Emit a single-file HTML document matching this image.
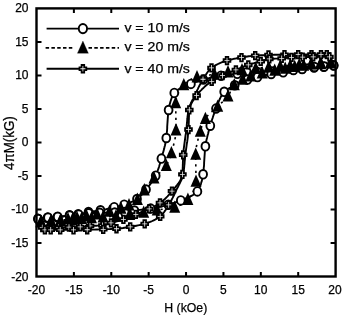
<!DOCTYPE html><html><head><meta charset="utf-8"><title>Hysteresis loops</title><style>html,body{margin:0;padding:0;background:#fff}body{width:342px;height:315px;overflow:hidden}</style></head><body>
<svg width="342" height="315" viewBox="0 0 342 315" style="display:block">
<rect width="342" height="315" fill="#fff"/>
<g fill="none" stroke="#000" stroke-linejoin="round">
<path d="M333.5,65.2 L332.1,65.5 L330.6,65.8 L329.2,66.0 L327.7,66.3 L326.3,66.5 L324.8,66.7 L323.4,66.8 L321.9,67.0 L320.4,67.1 L319.0,67.2 L317.5,67.2 L316.0,67.3 L314.6,67.5 L313.1,67.6 L311.7,67.7 L310.2,67.9 L308.7,68.0 L307.3,68.2 L305.8,68.4 L304.4,68.6 L302.9,68.7 L301.4,68.9 L300.0,69.0 L298.5,69.1 L297.1,69.2 L295.6,69.3 L294.1,69.5 L292.7,69.6 L291.2,69.8 L289.8,70.1 L288.3,70.3 L286.9,70.5 L285.4,70.7 L284.0,70.9 L282.5,71.0 L281.0,71.1 L279.6,71.2 L278.1,71.3 L276.6,71.3 L275.2,71.4 L273.7,71.4 L272.2,71.5 L270.8,71.5 L269.3,71.6 L267.8,71.6 L266.4,71.6 L264.9,71.6 L263.4,71.7 L262.0,71.7 L260.5,71.7 L259.0,71.7 L257.6,71.8 L256.1,71.8 L254.6,71.9 L253.2,71.9 L251.7,72.0 L250.2,72.1 L248.8,72.2 L247.3,72.3 L245.8,72.4 L244.4,72.6 L242.9,72.8 L241.5,73.1 L240.0,73.4 L238.6,73.6 L237.1,73.8 L235.7,74.0 L234.2,74.2 L232.8,74.3 L231.3,74.5 L229.8,74.6 L228.4,74.8 L226.9,74.9 L225.5,75.1 L224.0,75.3 L222.5,75.5 L221.1,75.7 L219.7,75.9 L218.2,76.2 L216.8,76.4 L215.3,76.7 L213.9,77.0 L212.4,77.3 L211.0,77.7 L209.6,78.0 L208.2,78.4 L206.7,78.7 L205.3,79.1 L203.9,79.5 L202.5,79.9 L201.1,80.3 L199.7,80.7 L198.3,81.1 L196.9,81.6 L195.5,82.1 L194.1,82.6 L192.7,83.2 L191.4,83.7 L190.0,84.3 L188.6,84.8 L187.1,85.4 L185.7,86.0 L184.2,86.6 L182.7,87.3 L181.2,87.9 L179.9,88.6 L178.5,89.4 L177.3,90.1 L176.2,90.9 L175.3,91.8 L174.5,92.7 L173.8,93.7 L173.1,94.8 L172.5,96.0 L171.9,97.3 L171.4,98.7 L170.9,100.2 L170.4,101.7 L170.0,103.2 L169.6,104.7 L169.3,106.3 L169.0,107.8 L168.7,109.3 L168.5,110.7 L168.3,112.1 L168.2,113.6 L168.0,115.0 L167.9,116.5 L167.8,118.0 L167.7,119.4 L167.6,120.9 L167.5,122.4 L167.4,123.8 L167.3,125.3 L167.2,126.8 L167.2,128.3 L167.1,129.7 L167.0,131.2 L166.8,132.7 L166.7,134.2 L166.6,135.6 L166.4,137.1 L166.2,138.5 L166.0,140.0 L165.8,141.4 L165.5,142.8 L165.2,144.3 L164.9,145.7 L164.5,147.1 L164.2,148.6 L163.8,150.0 L163.4,151.4 L163.0,152.8 L162.6,154.3 L162.2,155.7 L161.8,157.1 L161.4,158.5 L161.0,159.9 L160.6,161.3 L160.2,162.8 L159.8,164.2 L159.4,165.6 L159.0,167.0 L158.5,168.4 L158.0,169.8 L157.5,171.2 L157.0,172.6 L156.5,173.9 L155.9,175.2 L155.3,176.5 L154.6,177.8 L153.9,179.0 L153.1,180.3 L152.3,181.5 L151.4,182.7 L150.5,183.9 L149.6,185.1 L148.7,186.2 L147.7,187.4 L146.8,188.5 L145.9,189.7 L144.9,190.8 L144.0,192.0 L143.0,193.2 L142.1,194.3 L141.1,195.4 L140.0,196.5 L139.0,197.5 L137.9,198.4 L136.7,199.2 L135.5,199.9 L134.3,200.6 L133.0,201.3 L131.6,201.9 L130.2,202.5 L128.8,203.1 L127.4,203.6 L126.0,204.1 L124.6,204.6 L123.2,205.0 L121.8,205.4 L120.4,205.8 L119.0,206.1 L117.6,206.4 L116.1,206.8 L114.7,207.1 L113.3,207.4 L111.8,207.8 L110.4,208.1 L109.0,208.5 L107.5,208.8 L106.1,209.2 L104.7,209.5 L103.2,209.8 L101.8,210.1 L100.4,210.3 L98.9,210.6 L97.5,210.8 L96.0,211.0 L94.6,211.1 L93.1,211.3 L91.6,211.5 L90.2,211.7 L88.7,212.0 L87.3,212.2 L85.9,212.6 L84.4,212.9 L83.0,213.3 L81.6,213.6 L80.2,213.9 L78.7,214.2 L77.3,214.4 L75.8,214.6 L74.4,214.8 L72.9,214.9 L71.4,215.1 L70.0,215.2 L68.5,215.4 L67.1,215.7 L65.6,216.0 L64.2,216.2 L62.7,216.5 L61.3,216.8 L59.8,217.0 L58.4,217.2 L56.9,217.3 L55.5,217.4 L54.0,217.5 L52.5,217.6 L51.1,217.6 L49.6,217.7 L48.1,217.8 L46.7,217.9 L45.2,218.0 L43.7,218.1 L42.3,218.2 L40.8,218.4 L39.4,218.5 L37.9,218.7" stroke-width="1.9"/>
<path d="M38.2,219.1 L39.6,218.8 L41.1,218.5 L42.5,218.3 L44.0,218.0 L45.5,217.8 L46.9,217.6 L48.4,217.5 L49.8,217.3 L51.3,217.2 L52.8,217.1 L54.2,217.0 L55.7,217.0 L57.2,216.8 L58.6,216.7 L60.1,216.6 L61.6,216.4 L63.0,216.2 L64.5,216.1 L66.0,215.9 L67.4,215.7 L68.9,215.6 L70.4,215.4 L71.8,215.3 L73.3,215.2 L74.8,215.1 L76.2,214.9 L77.7,214.8 L79.1,214.6 L80.6,214.5 L82.1,214.2 L83.5,214.0 L85.0,213.7 L86.4,213.5 L87.9,213.4 L89.4,213.3 L90.8,213.2 L92.3,213.1 L93.8,213.0 L95.2,213.0 L96.7,212.9 L98.2,212.8 L99.6,212.8 L101.1,212.8 L102.6,212.7 L104.1,212.7 L105.5,212.7 L107.0,212.7 L108.5,212.6 L110.0,212.6 L111.4,212.6 L112.9,212.5 L114.4,212.5 L115.8,212.5 L117.3,212.4 L118.8,212.4 L120.3,212.3 L121.7,212.2 L123.2,212.1 L124.7,212.0 L126.1,211.9 L127.6,211.7 L129.0,211.4 L130.5,211.2 L131.9,210.9 L133.4,210.6 L134.8,210.4 L136.3,210.3 L137.8,210.1 L139.2,209.9 L140.7,209.8 L142.2,209.6 L143.6,209.5 L145.1,209.3 L146.6,209.2 L148.0,209.0 L149.5,208.8 L150.9,208.6 L152.4,208.3 L153.8,208.1 L155.3,207.8 L156.7,207.5 L158.2,207.2 L159.6,206.9 L161.0,206.6 L162.5,206.2 L163.9,205.9 L165.3,205.5 L166.7,205.1 L168.2,204.7 L169.6,204.3 L171.0,203.9 L172.4,203.5 L173.8,203.0 L175.2,202.5 L176.6,202.0 L178.0,201.5 L179.3,201.0 L180.7,200.4 L182.1,199.9 L183.5,199.3 L185.0,198.7 L186.5,198.1 L188.0,197.5 L189.5,196.8 L190.9,196.2 L192.3,195.4 L193.5,194.7 L194.7,193.9 L195.8,193.1 L196.7,192.2 L197.5,191.3 L198.1,190.3 L198.8,189.1 L199.4,187.9 L199.9,186.5 L200.5,185.1 L201.0,183.6 L201.4,182.1 L201.9,180.6 L202.2,179.0 L202.6,177.5 L202.8,176.0 L203.1,174.5 L203.3,173.1 L203.4,171.6 L203.6,170.2 L203.7,168.7 L203.8,167.3 L204.0,165.8 L204.1,164.3 L204.1,162.9 L204.2,161.4 L204.3,159.9 L204.4,158.4 L204.5,156.9 L204.6,155.5 L204.7,154.0 L204.8,152.5 L204.9,151.0 L205.0,149.6 L205.2,148.1 L205.4,146.6 L205.5,145.2 L205.8,143.8 L206.0,142.3 L206.3,140.9 L206.6,139.4 L207.0,138.0 L207.3,136.6 L207.7,135.1 L208.1,133.7 L208.4,132.3 L208.8,130.8 L209.2,129.4 L209.7,128.0 L210.1,126.6 L210.4,125.2 L210.9,123.8 L211.3,122.3 L211.7,120.9 L212.1,119.5 L212.6,118.1 L213.0,116.7 L213.5,115.3 L214.0,113.9 L214.5,112.5 L215.0,111.2 L215.5,109.8 L216.1,108.4 L216.6,107.0 L217.2,105.6 L217.7,104.2 L218.3,102.7 L218.8,101.3 L219.4,99.9 L220.1,98.5 L220.7,97.1 L221.4,95.8 L222.1,94.6 L222.9,93.4 L223.7,92.4 L224.6,91.4 L225.6,90.5 L226.7,89.6 L228.0,88.8 L229.3,88.1 L230.7,87.3 L232.1,86.6 L233.4,86.0 L234.7,85.3 L236.0,84.6 L237.4,83.9 L238.7,83.3 L240.0,82.6 L241.4,82.0 L242.7,81.4 L244.1,80.8 L245.5,80.3 L246.8,79.8 L248.2,79.4 L249.6,79.0 L251.0,78.6 L252.5,78.3 L253.9,77.9 L255.4,77.6 L256.8,77.3 L258.2,76.9 L259.7,76.6 L261.1,76.2 L262.5,75.9 L264.0,75.5 L265.4,75.2 L266.8,74.9 L268.3,74.6 L269.7,74.3 L271.2,74.0 L272.6,73.8 L274.1,73.6 L275.5,73.4 L277.0,73.2 L278.4,73.0 L279.9,72.8 L281.4,72.6 L282.8,72.4 L284.3,72.1 L285.7,71.8 L287.1,71.4 L288.6,71.1 L290.0,70.7 L291.4,70.4 L292.9,70.1 L294.3,69.9 L295.8,69.7 L297.2,69.5 L298.7,69.4 L300.2,69.2 L301.6,69.1 L303.1,68.9 L304.6,68.6 L306.0,68.4 L307.5,68.1 L308.9,67.8 L310.4,67.5 L311.8,67.3 L313.3,67.1 L314.7,67.0 L316.2,66.9 L317.7,66.8 L319.1,66.7 L320.6,66.7 L322.1,66.6 L323.5,66.5 L325.0,66.4 L326.5,66.3 L327.9,66.2 L329.4,66.1 L330.9,65.9 L332.3,65.8 L333.8,65.6" stroke-width="1.9"/>
<path d="M334.0,62.8 L332.5,62.9 L331.0,63.0 L329.5,63.1 L328.1,63.1 L326.6,63.2 L325.1,63.3 L323.6,63.4 L322.1,63.4 L320.6,63.5 L319.2,63.6 L317.7,63.7 L316.2,63.7 L314.7,63.8 L313.2,63.9 L311.7,64.0 L310.2,64.1 L308.8,64.1 L307.3,64.2 L305.8,64.3 L304.3,64.4 L302.8,64.5 L301.3,64.6 L299.9,64.8 L298.4,64.9 L296.9,65.0 L295.4,65.1 L293.9,65.3 L292.4,65.4 L291.0,65.5 L289.5,65.7 L288.0,65.8 L286.5,65.9 L285.0,66.0 L283.6,66.1 L282.1,66.3 L280.6,66.4 L279.1,66.5 L277.6,66.6 L276.1,66.7 L274.7,66.8 L273.2,66.9 L271.7,67.0 L270.2,67.1 L268.7,67.2 L267.2,67.3 L265.8,67.4 L264.3,67.5 L262.8,67.7 L261.3,67.8 L259.8,67.9 L258.4,68.1 L256.9,68.2 L255.4,68.3 L253.9,68.5 L252.4,68.6 L251.0,68.8 L249.5,68.9 L248.0,69.1 L246.5,69.3 L245.0,69.4 L243.6,69.6 L242.1,69.8 L240.6,70.0 L239.1,70.2 L237.7,70.4 L236.2,70.6 L234.7,70.9 L233.3,71.1 L231.8,71.4 L230.3,71.6 L228.9,71.9 L227.4,72.1 L225.9,72.3 L224.5,72.6 L223.0,72.8 L221.5,73.1 L220.1,73.4 L218.6,73.6 L217.1,73.9 L215.7,74.1 L214.2,74.3 L212.7,74.6 L211.2,74.8 L209.7,75.0 L208.2,75.2 L206.7,75.3 L205.2,75.5 L203.7,75.7 L202.3,75.9 L200.8,76.2 L199.4,76.5 L198.0,76.8 L196.6,77.1 L195.2,77.6 L193.8,78.1 L192.3,78.7 L190.9,79.4 L189.5,80.2 L188.2,81.1 L186.9,82.0 L185.8,82.9 L184.7,83.8 L183.8,84.8 L183.0,85.8 L182.1,86.9 L181.3,88.1 L180.4,89.4 L179.6,90.7 L178.9,92.1 L178.1,93.5 L177.5,95.0 L176.9,96.5 L176.5,98.0 L176.1,99.5 L175.8,100.9 L175.7,102.4 L175.7,103.8 L175.7,105.3 L175.7,106.7 L175.7,108.2 L175.7,109.6 L175.8,111.1 L175.8,112.6 L175.8,114.1 L175.8,115.6 L175.9,117.1 L175.9,118.6 L175.9,120.1 L175.9,121.7 L176.0,123.2 L176.0,124.7 L176.0,126.2 L176.0,127.7 L176.0,129.1 L176.0,130.6 L175.9,132.1 L175.8,133.6 L175.7,135.0 L175.5,136.5 L175.2,138.0 L174.9,139.5 L174.6,140.9 L174.3,142.4 L173.9,143.8 L173.5,145.3 L173.1,146.8 L172.7,148.2 L172.3,149.6 L171.9,151.1 L171.5,152.5 L171.1,153.9 L170.7,155.3 L170.2,156.8 L169.7,158.2 L169.2,159.7 L168.6,161.1 L168.0,162.4 L167.4,163.8 L166.7,165.0 L166.0,166.2 L165.1,167.4 L164.2,168.5 L163.2,169.5 L162.1,170.6 L161.0,171.6 L159.9,172.6 L158.7,173.6 L157.5,174.6 L156.4,175.6 L155.3,176.6 L154.3,177.7 L153.3,178.8 L152.3,179.9 L151.3,181.1 L150.4,182.2 L149.4,183.4 L148.5,184.6 L147.6,185.7 L146.7,186.9 L145.8,188.1 L144.9,189.3 L144.0,190.4 L143.1,191.7 L142.3,192.9 L141.5,194.2 L140.6,195.5 L139.8,196.7 L138.9,197.9 L137.9,199.0 L136.9,200.0 L135.8,200.9 L134.6,201.8 L133.3,202.6 L132.0,203.4 L130.7,204.1 L129.4,204.8 L128.0,205.5 L126.7,206.1 L125.3,206.7 L123.9,207.3 L122.5,207.8 L121.1,208.3 L119.7,208.7 L118.3,209.1 L116.9,209.5 L115.4,209.9 L114.0,210.2 L112.5,210.6 L111.1,210.9 L109.6,211.3 L108.2,211.6 L106.7,211.9 L105.3,212.3 L103.8,212.6 L102.4,212.9 L100.9,213.2 L99.5,213.5 L98.0,213.8 L96.5,214.1 L95.1,214.4 L93.6,214.7 L92.2,215.0 L90.7,215.2 L89.2,215.5 L87.8,215.8 L86.3,216.0 L84.9,216.3 L83.4,216.5 L81.9,216.8 L80.5,217.0 L79.0,217.3 L77.5,217.5 L76.1,217.7 L74.6,218.0 L73.1,218.2 L71.6,218.4 L70.2,218.6 L68.7,218.9 L67.2,219.1 L65.8,219.5 L64.3,219.8 L62.9,220.1 L61.4,220.4 L60.0,220.6 L58.5,220.7 L57.0,220.9 L55.5,221.0 L54.0,221.1 L52.5,221.2 L51.1,221.3 L49.6,221.4 L48.1,221.5 L46.6,221.6 L45.1,221.8 L43.6,221.9 L42.2,221.9 L40.7,222.0 L39.2,222.1 L37.7,222.1" stroke-width="1.6" stroke-dasharray="2.2 4.3"/>
<path d="M37.7,221.5 L39.2,221.4 L40.7,221.3 L42.2,221.2 L43.6,221.2 L45.1,221.1 L46.6,221.0 L48.1,220.9 L49.6,220.9 L51.1,220.8 L52.6,220.7 L54.0,220.6 L55.5,220.6 L57.0,220.5 L58.5,220.4 L60.0,220.3 L61.5,220.2 L63.0,220.2 L64.4,220.1 L65.9,220.0 L67.4,219.9 L68.9,219.8 L70.4,219.7 L71.9,219.5 L73.4,219.4 L74.8,219.3 L76.3,219.2 L77.8,219.0 L79.3,218.9 L80.8,218.8 L82.2,218.6 L83.7,218.5 L85.2,218.4 L86.7,218.3 L88.2,218.2 L89.7,218.0 L91.1,217.9 L92.6,217.8 L94.1,217.7 L95.6,217.6 L97.1,217.5 L98.6,217.4 L100.1,217.3 L101.5,217.2 L103.0,217.1 L104.5,217.0 L106.0,216.9 L107.5,216.7 L109.0,216.6 L110.4,216.5 L111.9,216.4 L113.4,216.2 L114.9,216.1 L116.4,216.0 L117.8,215.8 L119.3,215.7 L120.8,215.5 L122.3,215.4 L123.8,215.2 L125.2,215.0 L126.7,214.9 L128.2,214.7 L129.7,214.5 L131.2,214.3 L132.6,214.1 L134.1,213.9 L135.6,213.6 L137.0,213.4 L138.5,213.2 L140.0,212.9 L141.4,212.7 L142.9,212.4 L144.4,212.2 L145.8,211.9 L147.3,211.7 L148.8,211.4 L150.2,211.2 L151.7,210.9 L153.2,210.7 L154.6,210.4 L156.1,210.2 L157.6,209.9 L159.1,209.7 L160.6,209.5 L162.1,209.3 L163.6,209.1 L165.1,209.0 L166.6,208.8 L168.1,208.6 L169.5,208.3 L171.0,208.1 L172.4,207.8 L173.8,207.5 L175.2,207.2 L176.6,206.7 L178.0,206.2 L179.5,205.5 L180.9,204.8 L182.3,204.0 L183.6,203.2 L184.8,202.3 L186.0,201.4 L187.0,200.4 L187.9,199.4 L188.8,198.4 L189.6,197.3 L190.5,196.1 L191.3,194.8 L192.1,193.5 L192.9,192.1 L193.6,190.6 L194.3,189.2 L194.8,187.7 L195.3,186.2 L195.6,184.7 L195.9,183.2 L196.0,181.8 L196.0,180.4 L196.0,178.9 L196.0,177.5 L196.0,176.0 L195.9,174.5 L195.9,173.0 L195.9,171.6 L195.9,170.1 L195.9,168.5 L195.8,167.0 L195.8,165.5 L195.8,164.0 L195.8,162.5 L195.7,161.0 L195.7,159.5 L195.7,158.0 L195.7,156.5 L195.7,155.0 L195.7,153.5 L195.8,152.1 L195.9,150.6 L196.0,149.1 L196.3,147.6 L196.5,146.2 L196.8,144.7 L197.1,143.2 L197.5,141.8 L197.8,140.3 L198.2,138.8 L198.6,137.4 L199.0,135.9 L199.4,134.5 L199.8,133.1 L200.2,131.7 L200.6,130.2 L201.1,128.8 L201.5,127.3 L202.0,125.9 L202.6,124.5 L203.2,123.1 L203.8,121.7 L204.4,120.4 L205.1,119.1 L205.8,117.9 L206.6,116.8 L207.6,115.7 L208.6,114.6 L209.6,113.5 L210.7,112.5 L211.9,111.5 L213.0,110.5 L214.2,109.5 L215.3,108.5 L216.5,107.5 L217.6,106.4 L218.6,105.4 L219.7,104.4 L220.9,103.4 L222.0,102.4 L223.1,101.4 L224.2,100.3 L225.3,99.3 L226.3,98.2 L227.3,97.1 L228.1,96.0 L228.9,94.8 L229.7,93.4 L230.3,92.0 L230.9,90.6 L231.6,89.2 L232.3,87.8 L233.0,86.6 L233.8,85.4 L234.7,84.4 L235.8,83.4 L237.0,82.6 L238.2,81.7 L239.6,81.0 L240.9,80.2 L242.3,79.5 L243.6,78.9 L244.9,78.2 L246.3,77.6 L247.7,77.1 L249.1,76.5 L250.5,76.1 L251.9,75.6 L253.3,75.2 L254.8,74.8 L256.2,74.4 L257.7,74.1 L259.1,73.7 L260.6,73.4 L262.0,73.0 L263.5,72.7 L264.9,72.4 L266.4,72.0 L267.8,71.7 L269.3,71.4 L270.7,71.1 L272.2,70.8 L273.7,70.5 L275.1,70.2 L276.6,69.9 L278.0,69.6 L279.5,69.4 L281.0,69.1 L282.4,68.8 L283.9,68.5 L285.3,68.3 L286.8,68.0 L288.3,67.8 L289.7,67.5 L291.2,67.3 L292.7,67.0 L294.1,66.8 L295.6,66.6 L297.1,66.3 L298.6,66.1 L300.0,65.9 L301.5,65.7 L303.0,65.4 L304.4,65.2 L305.9,64.9 L307.3,64.5 L308.8,64.2 L310.3,63.9 L311.7,63.7 L313.2,63.6 L314.7,63.4 L316.2,63.3 L317.7,63.2 L319.1,63.1 L320.6,63.0 L322.1,62.9 L323.6,62.8 L325.1,62.7 L326.6,62.5 L328.1,62.4 L329.5,62.4 L331.0,62.3 L332.5,62.2 L334.0,62.2" stroke-width="1.6" stroke-dasharray="2.2 4.3"/>
<path d="M326.8,54.5 L325.3,54.5 L323.8,54.5 L322.3,54.5 L320.8,54.5 L319.3,54.5 L317.8,54.5 L316.3,54.5 L314.8,54.5 L313.3,54.5 L311.8,54.5 L310.3,54.5 L308.8,54.5 L307.3,54.5 L305.8,54.5 L304.3,54.5 L302.8,54.5 L301.3,54.5 L299.8,54.5 L298.3,54.5 L296.8,54.5 L295.3,54.5 L293.8,54.5 L292.3,54.5 L290.8,54.5 L289.2,54.5 L287.7,54.6 L286.2,54.6 L284.7,54.6 L283.2,54.6 L281.7,54.6 L280.2,54.7 L278.7,54.7 L277.2,54.7 L275.7,54.8 L274.2,54.8 L272.7,54.9 L271.2,54.9 L269.7,55.0 L268.2,55.0 L266.7,55.1 L265.2,55.1 L263.7,55.2 L262.2,55.2 L260.7,55.3 L259.2,55.4 L257.7,55.4 L256.2,55.5 L254.7,55.6 L253.2,55.8 L251.7,55.9 L250.2,56.1 L248.8,56.3 L247.3,56.5 L245.8,56.8 L244.3,57.0 L242.8,57.3 L241.3,57.5 L239.9,57.8 L238.4,58.0 L236.9,58.3 L235.4,58.6 L233.9,58.8 L232.4,59.2 L230.9,59.5 L229.5,59.8 L228.1,60.2 L226.6,60.6 L225.2,61.1 L223.8,61.5 L222.3,62.1 L220.9,62.7 L219.4,63.3 L218.0,64.0 L216.7,64.7 L215.3,65.4 L214.1,66.2 L212.9,67.0 L211.7,67.8 L210.7,68.7 L209.6,69.7 L208.7,70.8 L207.7,72.0 L206.8,73.3 L206.0,74.6 L205.1,75.9 L204.3,77.2 L203.5,78.5 L202.7,79.8 L201.9,81.1 L201.2,82.4 L200.5,83.7 L199.8,85.0 L199.1,86.3 L198.4,87.7 L197.8,89.1 L197.1,90.4 L196.5,91.8 L195.9,93.2 L195.2,94.5 L194.6,95.9 L193.9,97.2 L193.2,98.6 L192.5,99.9 L191.8,101.3 L191.1,102.7 L190.5,104.1 L189.9,105.4 L189.4,106.8 L188.9,108.2 L188.6,109.7 L188.3,111.1 L188.1,112.5 L187.9,114.0 L187.7,115.5 L187.5,117.0 L187.4,118.5 L187.2,120.0 L187.1,121.5 L187.0,123.0 L186.8,124.5 L186.7,126.0 L186.6,127.5 L186.4,129.1 L186.2,130.5 L186.0,132.0 L185.9,133.5 L185.6,135.0 L185.4,136.5 L185.2,138.0 L185.0,139.5 L184.8,141.0 L184.6,142.5 L184.4,143.9 L184.2,145.4 L184.0,146.9 L183.8,148.4 L183.6,149.9 L183.5,151.4 L183.3,152.9 L183.2,154.4 L183.1,155.9 L183.1,157.4 L183.0,158.9 L183.0,160.5 L182.9,162.0 L182.9,163.6 L182.8,165.1 L182.8,166.6 L182.7,168.1 L182.7,169.6 L182.6,171.1 L182.5,172.5 L182.4,173.9 L182.3,175.3 L181.9,176.7 L181.5,178.0 L180.8,179.4 L180.1,180.7 L179.3,182.0 L178.4,183.3 L177.4,184.6 L176.4,185.8 L175.4,187.1 L174.4,188.3 L173.4,189.5 L172.4,190.6 L171.5,191.8 L170.6,193.0 L169.6,194.1 L168.6,195.2 L167.5,196.4 L166.5,197.4 L165.4,198.5 L164.3,199.6 L163.1,200.6 L162.0,201.5 L160.8,202.4 L159.6,203.3 L158.4,204.1 L157.1,204.8 L155.8,205.6 L154.4,206.3 L153.1,206.9 L151.7,207.6 L150.3,208.3 L149.0,208.9 L147.6,209.5 L146.3,210.1 L144.9,210.7 L143.5,211.3 L142.1,211.9 L140.7,212.4 L139.3,213.0 L137.9,213.5 L136.5,214.1 L135.1,214.7 L133.7,215.3 L132.4,215.8 L131.0,216.4 L129.6,217.0 L128.2,217.6 L126.8,218.2 L125.4,218.7 L124.0,219.2 L122.6,219.7 L121.1,220.1 L119.7,220.6 L118.3,221.0 L116.8,221.4 L115.4,221.8 L113.9,222.2 L112.5,222.6 L111.0,223.0 L109.6,223.4 L108.1,223.9 L106.7,224.4 L105.2,224.8 L103.8,225.1 L102.3,225.3 L100.8,225.4 L99.3,225.5 L97.8,225.6 L96.3,225.7 L94.8,225.7 L93.3,225.8 L91.8,225.9 L90.3,226.0 L88.8,226.1 L87.3,226.3 L85.8,226.5 L84.3,226.6 L82.8,226.8 L81.3,226.9 L79.8,227.0 L78.3,227.1 L76.8,227.1 L75.3,227.1 L73.8,227.1 L72.3,227.2 L70.8,227.2 L69.3,227.2 L67.8,227.2 L66.3,227.2 L64.8,227.2 L63.3,227.3 L61.8,227.3 L60.3,227.3 L58.8,227.3 L57.3,227.3 L55.8,227.3 L54.3,227.3 L52.8,227.4 L51.3,227.4 L49.8,227.4 L48.3,227.4 L46.8,227.4 L45.3,227.5 L43.8,227.5 L42.3,227.5" stroke-width="1.9"/>
<path d="M44.9,229.8 L46.4,229.8 L47.9,229.8 L49.4,229.8 L50.9,229.8 L52.4,229.8 L53.9,229.8 L55.4,229.8 L56.9,229.8 L58.4,229.8 L59.9,229.8 L61.4,229.8 L62.9,229.8 L64.4,229.8 L65.9,229.8 L67.4,229.8 L69.0,229.8 L70.5,229.8 L72.0,229.8 L73.5,229.8 L75.0,229.8 L76.5,229.8 L78.0,229.8 L79.5,229.8 L81.0,229.8 L82.5,229.8 L84.0,229.7 L85.5,229.7 L87.0,229.7 L88.5,229.7 L90.0,229.7 L91.5,229.6 L93.0,229.6 L94.5,229.6 L96.0,229.5 L97.5,229.5 L99.0,229.4 L100.5,229.4 L102.0,229.3 L103.5,229.3 L105.0,229.2 L106.5,229.2 L108.0,229.1 L109.5,229.1 L111.0,229.0 L112.5,228.9 L114.0,228.9 L115.5,228.8 L117.0,228.7 L118.5,228.5 L120.0,228.4 L121.5,228.2 L123.0,228.0 L124.5,227.7 L126.0,227.5 L127.5,227.3 L128.9,227.0 L130.4,226.8 L131.9,226.5 L133.4,226.3 L134.9,226.0 L136.4,225.7 L137.9,225.4 L139.4,225.1 L140.8,224.8 L142.3,224.5 L143.7,224.1 L145.1,223.7 L146.6,223.2 L148.0,222.7 L149.5,222.2 L150.9,221.6 L152.3,221.0 L153.7,220.3 L155.1,219.6 L156.4,218.9 L157.7,218.1 L158.9,217.3 L160.0,216.4 L161.1,215.5 L162.1,214.5 L163.1,213.4 L164.0,212.2 L164.9,210.9 L165.8,209.7 L166.6,208.3 L167.5,207.0 L168.3,205.7 L169.0,204.4 L169.8,203.2 L170.5,201.9 L171.3,200.5 L171.9,199.2 L172.6,197.9 L173.3,196.5 L174.0,195.1 L174.6,193.8 L175.2,192.4 L175.9,191.0 L176.5,189.7 L177.2,188.3 L177.9,187.0 L178.6,185.6 L179.3,184.2 L180.0,182.9 L180.6,181.5 L181.3,180.1 L181.9,178.8 L182.4,177.4 L182.8,175.9 L183.2,174.5 L183.4,173.1 L183.6,171.6 L183.8,170.2 L184.0,168.7 L184.2,167.2 L184.3,165.7 L184.5,164.2 L184.6,162.7 L184.7,161.1 L184.9,159.6 L185.0,158.1 L185.1,156.6 L185.3,155.1 L185.5,153.6 L185.7,152.1 L185.9,150.6 L186.1,149.1 L186.3,147.7 L186.5,146.2 L186.7,144.7 L186.9,143.2 L187.2,141.7 L187.4,140.2 L187.6,138.7 L187.8,137.2 L187.9,135.7 L188.1,134.2 L188.2,132.7 L188.4,131.3 L188.5,129.8 L188.6,128.3 L188.6,126.7 L188.7,125.2 L188.7,123.7 L188.8,122.2 L188.8,120.6 L188.9,119.1 L188.9,117.6 L189.0,116.1 L189.0,114.6 L189.1,113.1 L189.2,111.7 L189.3,110.2 L189.5,108.8 L189.8,107.4 L190.3,106.0 L190.9,104.6 L191.6,103.2 L192.3,101.8 L193.2,100.5 L194.0,99.2 L194.9,97.9 L195.8,96.6 L196.6,95.4 L197.5,94.3 L198.4,93.1 L199.4,92.0 L200.4,90.9 L201.5,89.8 L202.5,88.7 L203.7,87.7 L204.8,86.6 L206.0,85.6 L207.2,84.6 L208.4,83.7 L209.6,82.8 L210.8,81.9 L212.0,81.1 L213.3,80.3 L214.5,79.5 L215.9,78.8 L217.2,78.1 L218.5,77.4 L219.9,76.7 L221.3,76.1 L222.6,75.4 L224.0,74.8 L225.4,74.2 L226.8,73.6 L228.1,73.0 L229.5,72.5 L230.9,71.9 L232.3,71.3 L233.7,70.8 L235.1,70.2 L236.5,69.6 L237.9,69.1 L239.3,68.5 L240.7,67.9 L242.1,67.3 L243.4,66.7 L244.8,66.2 L246.2,65.6 L247.7,65.1 L249.1,64.6 L250.5,64.2 L251.9,63.7 L253.4,63.3 L254.8,62.9 L256.3,62.5 L257.7,62.1 L259.2,61.7 L260.6,61.3 L262.1,60.9 L263.5,60.4 L265.0,60.0 L266.4,59.5 L267.9,59.2 L269.3,59.0 L270.8,58.9 L272.3,58.8 L273.8,58.7 L275.3,58.6 L276.8,58.6 L278.3,58.5 L279.9,58.4 L281.4,58.3 L282.9,58.2 L284.3,58.0 L285.8,57.8 L287.3,57.7 L288.8,57.5 L290.3,57.4 L291.8,57.3 L293.3,57.2 L294.8,57.2 L296.3,57.2 L297.8,57.2 L299.3,57.1 L300.8,57.1 L302.3,57.1 L303.8,57.1 L305.4,57.1 L306.9,57.1 L308.4,57.0 L309.9,57.0 L311.4,57.0 L312.9,57.0 L314.4,57.0 L315.9,57.0 L317.4,57.0 L318.9,56.9 L320.4,56.9 L321.9,56.9 L323.4,56.9 L324.9,56.9 L326.4,56.8 L327.9,56.8 L329.4,56.8" stroke-width="1.9"/>
</g>
<g>
<ellipse cx="333.5" cy="65.2" rx="3.9" ry="4.3" fill="#fff" stroke="#000" stroke-width="1.9"/>
<ellipse cx="323.7" cy="66.8" rx="3.9" ry="4.3" fill="#fff" stroke="#000" stroke-width="1.9"/>
<ellipse cx="314.0" cy="67.5" rx="3.9" ry="4.3" fill="#fff" stroke="#000" stroke-width="1.9"/>
<ellipse cx="302.0" cy="68.8" rx="3.9" ry="4.3" fill="#fff" stroke="#000" stroke-width="1.9"/>
<ellipse cx="293.0" cy="69.6" rx="3.9" ry="4.3" fill="#fff" stroke="#000" stroke-width="1.9"/>
<ellipse cx="283.0" cy="71.0" rx="3.9" ry="4.3" fill="#fff" stroke="#000" stroke-width="1.9"/>
<ellipse cx="272.0" cy="71.5" rx="3.9" ry="4.3" fill="#fff" stroke="#000" stroke-width="1.9"/>
<ellipse cx="257.0" cy="71.8" rx="3.9" ry="4.3" fill="#fff" stroke="#000" stroke-width="1.9"/>
<ellipse cx="247.0" cy="72.3" rx="3.9" ry="4.3" fill="#fff" stroke="#000" stroke-width="1.9"/>
<ellipse cx="237.3" cy="73.8" rx="3.9" ry="4.3" fill="#fff" stroke="#000" stroke-width="1.9"/>
<ellipse cx="221.0" cy="75.7" rx="3.9" ry="4.3" fill="#fff" stroke="#000" stroke-width="1.9"/>
<ellipse cx="203.4" cy="79.6" rx="3.9" ry="4.3" fill="#fff" stroke="#000" stroke-width="1.9"/>
<ellipse cx="190.9" cy="83.9" rx="3.9" ry="4.3" fill="#fff" stroke="#000" stroke-width="1.9"/>
<ellipse cx="174.3" cy="92.9" rx="3.9" ry="4.3" fill="#fff" stroke="#000" stroke-width="1.9"/>
<ellipse cx="168.6" cy="110.0" rx="3.9" ry="4.3" fill="#fff" stroke="#000" stroke-width="1.9"/>
<ellipse cx="166.3" cy="138.0" rx="3.9" ry="4.3" fill="#fff" stroke="#000" stroke-width="1.9"/>
<ellipse cx="161.4" cy="158.6" rx="3.9" ry="4.3" fill="#fff" stroke="#000" stroke-width="1.9"/>
<ellipse cx="155.7" cy="175.7" rx="3.9" ry="4.3" fill="#fff" stroke="#000" stroke-width="1.9"/>
<ellipse cx="146.0" cy="189.5" rx="3.9" ry="4.3" fill="#fff" stroke="#000" stroke-width="1.9"/>
<ellipse cx="137.0" cy="199.0" rx="3.9" ry="4.3" fill="#fff" stroke="#000" stroke-width="1.9"/>
<ellipse cx="124.2" cy="204.7" rx="3.9" ry="4.3" fill="#fff" stroke="#000" stroke-width="1.9"/>
<ellipse cx="114.2" cy="207.2" rx="3.9" ry="4.3" fill="#fff" stroke="#000" stroke-width="1.9"/>
<ellipse cx="100.5" cy="210.3" rx="3.9" ry="4.3" fill="#fff" stroke="#000" stroke-width="1.9"/>
<ellipse cx="88.5" cy="212.0" rx="3.9" ry="4.3" fill="#fff" stroke="#000" stroke-width="1.9"/>
<ellipse cx="78.2" cy="214.3" rx="3.9" ry="4.3" fill="#fff" stroke="#000" stroke-width="1.9"/>
<ellipse cx="69.5" cy="215.3" rx="3.9" ry="4.3" fill="#fff" stroke="#000" stroke-width="1.9"/>
<ellipse cx="57.2" cy="217.3" rx="3.9" ry="4.3" fill="#fff" stroke="#000" stroke-width="1.9"/>
<ellipse cx="47.5" cy="217.8" rx="3.9" ry="4.3" fill="#fff" stroke="#000" stroke-width="1.9"/>
<ellipse cx="37.9" cy="218.7" rx="3.9" ry="4.3" fill="#fff" stroke="#000" stroke-width="1.9"/>
<ellipse cx="38.2" cy="219.1" rx="3.9" ry="4.3" fill="#fff" stroke="#000" stroke-width="1.9"/>
<ellipse cx="48.0" cy="217.5" rx="3.9" ry="4.3" fill="#fff" stroke="#000" stroke-width="1.9"/>
<ellipse cx="57.7" cy="216.8" rx="3.9" ry="4.3" fill="#fff" stroke="#000" stroke-width="1.9"/>
<ellipse cx="69.7" cy="215.5" rx="3.9" ry="4.3" fill="#fff" stroke="#000" stroke-width="1.9"/>
<ellipse cx="78.7" cy="214.7" rx="3.9" ry="4.3" fill="#fff" stroke="#000" stroke-width="1.9"/>
<ellipse cx="88.7" cy="213.3" rx="3.9" ry="4.3" fill="#fff" stroke="#000" stroke-width="1.9"/>
<ellipse cx="99.7" cy="212.8" rx="3.9" ry="4.3" fill="#fff" stroke="#000" stroke-width="1.9"/>
<ellipse cx="114.7" cy="212.5" rx="3.9" ry="4.3" fill="#fff" stroke="#000" stroke-width="1.9"/>
<ellipse cx="124.7" cy="212.0" rx="3.9" ry="4.3" fill="#fff" stroke="#000" stroke-width="1.9"/>
<ellipse cx="134.4" cy="210.5" rx="3.9" ry="4.3" fill="#fff" stroke="#000" stroke-width="1.9"/>
<ellipse cx="150.7" cy="208.6" rx="3.9" ry="4.3" fill="#fff" stroke="#000" stroke-width="1.9"/>
<ellipse cx="168.3" cy="204.7" rx="3.9" ry="4.3" fill="#fff" stroke="#000" stroke-width="1.9"/>
<ellipse cx="180.8" cy="200.4" rx="3.9" ry="4.3" fill="#fff" stroke="#000" stroke-width="1.9"/>
<ellipse cx="197.4" cy="191.4" rx="3.9" ry="4.3" fill="#fff" stroke="#000" stroke-width="1.9"/>
<ellipse cx="203.1" cy="174.3" rx="3.9" ry="4.3" fill="#fff" stroke="#000" stroke-width="1.9"/>
<ellipse cx="205.4" cy="146.3" rx="3.9" ry="4.3" fill="#fff" stroke="#000" stroke-width="1.9"/>
<ellipse cx="210.3" cy="125.7" rx="3.9" ry="4.3" fill="#fff" stroke="#000" stroke-width="1.9"/>
<ellipse cx="216.0" cy="108.6" rx="3.9" ry="4.3" fill="#fff" stroke="#000" stroke-width="1.9"/>
<ellipse cx="224.2" cy="91.8" rx="3.9" ry="4.3" fill="#fff" stroke="#000" stroke-width="1.9"/>
<ellipse cx="234.7" cy="85.3" rx="3.9" ry="4.3" fill="#fff" stroke="#000" stroke-width="1.9"/>
<ellipse cx="247.5" cy="79.6" rx="3.9" ry="4.3" fill="#fff" stroke="#000" stroke-width="1.9"/>
<ellipse cx="257.5" cy="77.1" rx="3.9" ry="4.3" fill="#fff" stroke="#000" stroke-width="1.9"/>
<ellipse cx="271.2" cy="74.0" rx="3.9" ry="4.3" fill="#fff" stroke="#000" stroke-width="1.9"/>
<ellipse cx="283.2" cy="72.3" rx="3.9" ry="4.3" fill="#fff" stroke="#000" stroke-width="1.9"/>
<ellipse cx="293.5" cy="70.0" rx="3.9" ry="4.3" fill="#fff" stroke="#000" stroke-width="1.9"/>
<ellipse cx="302.2" cy="69.0" rx="3.9" ry="4.3" fill="#fff" stroke="#000" stroke-width="1.9"/>
<ellipse cx="314.5" cy="67.0" rx="3.9" ry="4.3" fill="#fff" stroke="#000" stroke-width="1.9"/>
<ellipse cx="324.2" cy="66.5" rx="3.9" ry="4.3" fill="#fff" stroke="#000" stroke-width="1.9"/>
<ellipse cx="333.8" cy="65.6" rx="3.9" ry="4.3" fill="#fff" stroke="#000" stroke-width="1.9"/>
</g>
<g>
<path d="M330.7,56.1 L336.2,68.4 L325.2,68.4Z" fill="#000"/>
<path d="M320.7,56.6 L326.2,68.9 L315.2,68.9Z" fill="#000"/>
<path d="M311.2,57.1 L316.7,69.4 L305.7,69.4Z" fill="#000"/>
<path d="M299.2,57.9 L304.7,70.2 L293.7,70.2Z" fill="#000"/>
<path d="M290.2,58.7 L295.7,71.0 L284.7,71.0Z" fill="#000"/>
<path d="M280.2,59.5 L285.7,71.8 L274.7,71.8Z" fill="#000"/>
<path d="M268.7,60.3 L274.2,72.6 L263.2,72.6Z" fill="#000"/>
<path d="M255.7,61.4 L261.2,73.7 L250.2,73.7Z" fill="#000"/>
<path d="M242.0,62.9 L247.5,75.2 L236.5,75.2Z" fill="#000"/>
<path d="M228.0,65.1 L233.5,77.4 L222.5,77.4Z" fill="#000"/>
<path d="M214.5,67.4 L220.0,79.7 L209.0,79.7Z" fill="#000"/>
<path d="M197.0,70.1 L202.5,82.4 L191.5,82.4Z" fill="#000"/>
<path d="M183.8,77.9 L189.3,90.2 L178.3,90.2Z" fill="#000"/>
<path d="M175.7,96.0 L181.2,108.3 L170.2,108.3Z" fill="#000"/>
<path d="M176.0,123.1 L181.5,135.4 L170.5,135.4Z" fill="#000"/>
<path d="M171.4,146.0 L176.9,158.3 L165.9,158.3Z" fill="#000"/>
<path d="M166.3,158.8 L171.8,171.1 L160.8,171.1Z" fill="#000"/>
<path d="M154.0,171.1 L159.5,183.4 L148.5,183.4Z" fill="#000"/>
<path d="M144.3,183.1 L149.8,195.4 L138.8,195.4Z" fill="#000"/>
<path d="M137.4,192.6 L142.9,204.9 L131.9,204.9Z" fill="#000"/>
<path d="M129.0,198.1 L134.5,210.4 L123.5,210.4Z" fill="#000"/>
<path d="M121.0,201.4 L126.5,213.7 L115.5,213.7Z" fill="#000"/>
<path d="M109.5,204.4 L115.0,216.7 L104.0,216.7Z" fill="#000"/>
<path d="M97.0,207.1 L102.5,219.4 L91.5,219.4Z" fill="#000"/>
<path d="M86.5,209.1 L92.0,221.4 L81.0,221.4Z" fill="#000"/>
<path d="M77.0,210.7 L82.5,223.0 L71.5,223.0Z" fill="#000"/>
<path d="M68.0,212.1 L73.5,224.4 L62.5,224.4Z" fill="#000"/>
<path d="M60.5,213.6 L66.0,225.9 L55.0,225.9Z" fill="#000"/>
<path d="M51.0,214.4 L56.5,226.7 L45.5,226.7Z" fill="#000"/>
<path d="M41.0,215.1 L46.5,227.4 L35.5,227.4Z" fill="#000"/>
<path d="M41.0,214.4 L46.5,226.7 L35.5,226.7Z" fill="#000"/>
<path d="M51.0,213.9 L56.5,226.2 L45.5,226.2Z" fill="#000"/>
<path d="M60.5,213.4 L66.0,225.7 L55.0,225.7Z" fill="#000"/>
<path d="M72.5,212.6 L78.0,224.9 L67.0,224.9Z" fill="#000"/>
<path d="M81.5,211.8 L87.0,224.1 L76.0,224.1Z" fill="#000"/>
<path d="M91.5,211.0 L97.0,223.3 L86.0,223.3Z" fill="#000"/>
<path d="M103.0,210.2 L108.5,222.5 L97.5,222.5Z" fill="#000"/>
<path d="M116.0,209.1 L121.5,221.4 L110.5,221.4Z" fill="#000"/>
<path d="M129.7,207.6 L135.2,219.9 L124.2,219.9Z" fill="#000"/>
<path d="M143.7,205.4 L149.2,217.7 L138.2,217.7Z" fill="#000"/>
<path d="M157.2,203.1 L162.7,215.4 L151.7,215.4Z" fill="#000"/>
<path d="M174.7,200.4 L180.2,212.7 L169.2,212.7Z" fill="#000"/>
<path d="M187.9,192.6 L193.4,204.9 L182.4,204.9Z" fill="#000"/>
<path d="M196.0,174.5 L201.5,186.8 L190.5,186.8Z" fill="#000"/>
<path d="M195.7,147.4 L201.2,159.7 L190.2,159.7Z" fill="#000"/>
<path d="M200.3,124.5 L205.8,136.8 L194.8,136.8Z" fill="#000"/>
<path d="M205.4,111.7 L210.9,124.0 L199.9,124.0Z" fill="#000"/>
<path d="M217.7,99.4 L223.2,111.7 L212.2,111.7Z" fill="#000"/>
<path d="M228.0,89.3 L233.5,101.6 L222.5,101.6Z" fill="#000"/>
<path d="M234.3,77.9 L239.8,90.2 L228.8,90.2Z" fill="#000"/>
<path d="M242.7,72.4 L248.2,84.7 L237.2,84.7Z" fill="#000"/>
<path d="M250.7,69.1 L256.2,81.4 L245.2,81.4Z" fill="#000"/>
<path d="M262.2,66.1 L267.7,78.4 L256.7,78.4Z" fill="#000"/>
<path d="M274.7,63.4 L280.2,75.7 L269.2,75.7Z" fill="#000"/>
<path d="M285.2,61.4 L290.7,73.7 L279.7,73.7Z" fill="#000"/>
<path d="M294.7,59.8 L300.2,72.1 L289.2,72.1Z" fill="#000"/>
<path d="M303.7,58.4 L309.2,70.7 L298.2,70.7Z" fill="#000"/>
<path d="M311.2,56.9 L316.7,69.2 L305.7,69.2Z" fill="#000"/>
<path d="M320.7,56.1 L326.2,68.4 L315.2,68.4Z" fill="#000"/>
<path d="M330.7,55.4 L336.2,67.7 L325.2,67.7Z" fill="#000"/>
</g>
<g>
<path d="M325.5,50.8h2.6v2.45h2.0999999999999996v2.6h-2.0999999999999996v2.45h-2.6v-2.45h-2.0999999999999996v-2.6h2.0999999999999996z" fill="#eee" stroke="#000" stroke-width="1.8"/>
<path d="M319.7,50.8h2.6v2.45h2.0999999999999996v2.6h-2.0999999999999996v2.45h-2.6v-2.45h-2.0999999999999996v-2.6h2.0999999999999996z" fill="#eee" stroke="#000" stroke-width="1.8"/>
<path d="M310.2,50.8h2.6v2.45h2.0999999999999996v2.6h-2.0999999999999996v2.45h-2.6v-2.45h-2.0999999999999996v-2.6h2.0999999999999996z" fill="#eee" stroke="#000" stroke-width="1.8"/>
<path d="M296.9,50.8h2.6v2.45h2.0999999999999996v2.6h-2.0999999999999996v2.45h-2.6v-2.45h-2.0999999999999996v-2.6h2.0999999999999996z" fill="#eee" stroke="#000" stroke-width="1.8"/>
<path d="M283.2,50.9h2.6v2.45h2.0999999999999996v2.6h-2.0999999999999996v2.45h-2.6v-2.45h-2.0999999999999996v-2.6h2.0999999999999996z" fill="#eee" stroke="#000" stroke-width="1.8"/>
<path d="M267.2,51.2h2.6v2.45h2.0999999999999996v2.6h-2.0999999999999996v2.45h-2.6v-2.45h-2.0999999999999996v-2.6h2.0999999999999996z" fill="#eee" stroke="#000" stroke-width="1.8"/>
<path d="M253.9,51.9h2.6v2.45h2.0999999999999996v2.6h-2.0999999999999996v2.45h-2.6v-2.45h-2.0999999999999996v-2.6h2.0999999999999996z" fill="#eee" stroke="#000" stroke-width="1.8"/>
<path d="M240.2,53.8h2.6v2.45h2.0999999999999996v2.6h-2.0999999999999996v2.45h-2.6v-2.45h-2.0999999999999996v-2.6h2.0999999999999996z" fill="#eee" stroke="#000" stroke-width="1.8"/>
<path d="M225.7,56.8h2.6v2.45h2.0999999999999996v2.6h-2.0999999999999996v2.45h-2.6v-2.45h-2.0999999999999996v-2.6h2.0999999999999996z" fill="#eee" stroke="#000" stroke-width="1.8"/>
<path d="M210.2,64.2h2.6v2.45h2.0999999999999996v2.6h-2.0999999999999996v2.45h-2.6v-2.45h-2.0999999999999996v-2.6h2.0999999999999996z" fill="#eee" stroke="#000" stroke-width="1.8"/>
<path d="M201.7,75.5h2.6v2.45h2.0999999999999996v2.6h-2.0999999999999996v2.45h-2.6v-2.45h-2.0999999999999996v-2.6h2.0999999999999996z" fill="#eee" stroke="#000" stroke-width="1.8"/>
<path d="M181.9,151.1h2.6v2.45h2.0999999999999996v2.6h-2.0999999999999996v2.45h-2.6v-2.45h-2.0999999999999996v-2.6h2.0999999999999996z" fill="#eee" stroke="#000" stroke-width="1.8"/>
<path d="M181.1,170.6h2.6v2.45h2.0999999999999996v2.6h-2.0999999999999996v2.45h-2.6v-2.45h-2.0999999999999996v-2.6h2.0999999999999996z" fill="#eee" stroke="#000" stroke-width="1.8"/>
<path d="M170.7,187.4h2.6v2.45h2.0999999999999996v2.6h-2.0999999999999996v2.45h-2.6v-2.45h-2.0999999999999996v-2.6h2.0999999999999996z" fill="#eee" stroke="#000" stroke-width="1.8"/>
<path d="M158.7,199.2h2.6v2.45h2.0999999999999996v2.6h-2.0999999999999996v2.45h-2.6v-2.45h-2.0999999999999996v-2.6h2.0999999999999996z" fill="#eee" stroke="#000" stroke-width="1.8"/>
<path d="M147.9,205.1h2.6v2.45h2.0999999999999996v2.6h-2.0999999999999996v2.45h-2.6v-2.45h-2.0999999999999996v-2.6h2.0999999999999996z" fill="#eee" stroke="#000" stroke-width="1.8"/>
<path d="M134.5,210.7h2.6v2.45h2.0999999999999996v2.6h-2.0999999999999996v2.45h-2.6v-2.45h-2.0999999999999996v-2.6h2.0999999999999996z" fill="#eee" stroke="#000" stroke-width="1.8"/>
<path d="M122.1,215.7h2.6v2.45h2.0999999999999996v2.6h-2.0999999999999996v2.45h-2.6v-2.45h-2.0999999999999996v-2.6h2.0999999999999996z" fill="#eee" stroke="#000" stroke-width="1.8"/>
<path d="M109.7,219.2h2.6v2.45h2.0999999999999996v2.6h-2.0999999999999996v2.45h-2.6v-2.45h-2.0999999999999996v-2.6h2.0999999999999996z" fill="#eee" stroke="#000" stroke-width="1.8"/>
<path d="M101.1,221.6h2.6v2.45h2.0999999999999996v2.6h-2.0999999999999996v2.45h-2.6v-2.45h-2.0999999999999996v-2.6h2.0999999999999996z" fill="#eee" stroke="#000" stroke-width="1.8"/>
<path d="M88.7,222.2h2.6v2.45h2.0999999999999996v2.6h-2.0999999999999996v2.45h-2.6v-2.45h-2.0999999999999996v-2.6h2.0999999999999996z" fill="#eee" stroke="#000" stroke-width="1.8"/>
<path d="M78.9,223.2h2.6v2.45h2.0999999999999996v2.6h-2.0999999999999996v2.45h-2.6v-2.45h-2.0999999999999996v-2.6h2.0999999999999996z" fill="#eee" stroke="#000" stroke-width="1.8"/>
<path d="M67.7,223.4h2.6v2.45h2.0999999999999996v2.6h-2.0999999999999996v2.45h-2.6v-2.45h-2.0999999999999996v-2.6h2.0999999999999996z" fill="#eee" stroke="#000" stroke-width="1.8"/>
<path d="M57.2,223.6h2.6v2.45h2.0999999999999996v2.6h-2.0999999999999996v2.45h-2.6v-2.45h-2.0999999999999996v-2.6h2.0999999999999996z" fill="#eee" stroke="#000" stroke-width="1.8"/>
<path d="M41.0,223.8h2.6v2.45h2.0999999999999996v2.6h-2.0999999999999996v2.45h-2.6v-2.45h-2.0999999999999996v-2.6h2.0999999999999996z" fill="#eee" stroke="#000" stroke-width="1.8"/>
<path d="M43.6,226.1h2.6v2.45h2.0999999999999996v2.6h-2.0999999999999996v2.45h-2.6v-2.45h-2.0999999999999996v-2.6h2.0999999999999996z" fill="#eee" stroke="#000" stroke-width="1.8"/>
<path d="M49.4,226.1h2.6v2.45h2.0999999999999996v2.6h-2.0999999999999996v2.45h-2.6v-2.45h-2.0999999999999996v-2.6h2.0999999999999996z" fill="#eee" stroke="#000" stroke-width="1.8"/>
<path d="M58.9,226.1h2.6v2.45h2.0999999999999996v2.6h-2.0999999999999996v2.45h-2.6v-2.45h-2.0999999999999996v-2.6h2.0999999999999996z" fill="#eee" stroke="#000" stroke-width="1.8"/>
<path d="M72.2,226.1h2.6v2.45h2.0999999999999996v2.6h-2.0999999999999996v2.45h-2.6v-2.45h-2.0999999999999996v-2.6h2.0999999999999996z" fill="#eee" stroke="#000" stroke-width="1.8"/>
<path d="M85.9,226.0h2.6v2.45h2.0999999999999996v2.6h-2.0999999999999996v2.45h-2.6v-2.45h-2.0999999999999996v-2.6h2.0999999999999996z" fill="#eee" stroke="#000" stroke-width="1.8"/>
<path d="M101.9,225.6h2.6v2.45h2.0999999999999996v2.6h-2.0999999999999996v2.45h-2.6v-2.45h-2.0999999999999996v-2.6h2.0999999999999996z" fill="#eee" stroke="#000" stroke-width="1.8"/>
<path d="M115.2,225.0h2.6v2.45h2.0999999999999996v2.6h-2.0999999999999996v2.45h-2.6v-2.45h-2.0999999999999996v-2.6h2.0999999999999996z" fill="#eee" stroke="#000" stroke-width="1.8"/>
<path d="M128.9,223.1h2.6v2.45h2.0999999999999996v2.6h-2.0999999999999996v2.45h-2.6v-2.45h-2.0999999999999996v-2.6h2.0999999999999996z" fill="#eee" stroke="#000" stroke-width="1.8"/>
<path d="M143.4,220.1h2.6v2.45h2.0999999999999996v2.6h-2.0999999999999996v2.45h-2.6v-2.45h-2.0999999999999996v-2.6h2.0999999999999996z" fill="#eee" stroke="#000" stroke-width="1.8"/>
<path d="M158.9,212.6h2.6v2.45h2.0999999999999996v2.6h-2.0999999999999996v2.45h-2.6v-2.45h-2.0999999999999996v-2.6h2.0999999999999996z" fill="#eee" stroke="#000" stroke-width="1.8"/>
<path d="M167.4,201.2h2.6v2.45h2.0999999999999996v2.6h-2.0999999999999996v2.45h-2.6v-2.45h-2.0999999999999996v-2.6h2.0999999999999996z" fill="#eee" stroke="#000" stroke-width="1.8"/>
<path d="M187.2,125.8h2.6v2.45h2.0999999999999996v2.6h-2.0999999999999996v2.45h-2.6v-2.45h-2.0999999999999996v-2.6h2.0999999999999996z" fill="#eee" stroke="#000" stroke-width="1.8"/>
<path d="M188.0,106.2h2.6v2.45h2.0999999999999996v2.6h-2.0999999999999996v2.45h-2.6v-2.45h-2.0999999999999996v-2.6h2.0999999999999996z" fill="#eee" stroke="#000" stroke-width="1.8"/>
<path d="M195.3,91.8h2.6v2.45h2.0999999999999996v2.6h-2.0999999999999996v2.45h-2.6v-2.45h-2.0999999999999996v-2.6h2.0999999999999996z" fill="#eee" stroke="#000" stroke-width="1.8"/>
<path d="M210.4,77.6h2.6v2.45h2.0999999999999996v2.6h-2.0999999999999996v2.45h-2.6v-2.45h-2.0999999999999996v-2.6h2.0999999999999996z" fill="#eee" stroke="#000" stroke-width="1.8"/>
<path d="M221.2,71.8h2.6v2.45h2.0999999999999996v2.6h-2.0999999999999996v2.45h-2.6v-2.45h-2.0999999999999996v-2.6h2.0999999999999996z" fill="#eee" stroke="#000" stroke-width="1.8"/>
<path d="M234.6,66.2h2.6v2.45h2.0999999999999996v2.6h-2.0999999999999996v2.45h-2.6v-2.45h-2.0999999999999996v-2.6h2.0999999999999996z" fill="#eee" stroke="#000" stroke-width="1.8"/>
<path d="M247.0,61.2h2.6v2.45h2.0999999999999996v2.6h-2.0999999999999996v2.45h-2.6v-2.45h-2.0999999999999996v-2.6h2.0999999999999996z" fill="#eee" stroke="#000" stroke-width="1.8"/>
<path d="M259.4,57.6h2.6v2.45h2.0999999999999996v2.6h-2.0999999999999996v2.45h-2.6v-2.45h-2.0999999999999996v-2.6h2.0999999999999996z" fill="#eee" stroke="#000" stroke-width="1.8"/>
<path d="M268.0,55.2h2.6v2.45h2.0999999999999996v2.6h-2.0999999999999996v2.45h-2.6v-2.45h-2.0999999999999996v-2.6h2.0999999999999996z" fill="#eee" stroke="#000" stroke-width="1.8"/>
<path d="M280.4,54.6h2.6v2.45h2.0999999999999996v2.6h-2.0999999999999996v2.45h-2.6v-2.45h-2.0999999999999996v-2.6h2.0999999999999996z" fill="#eee" stroke="#000" stroke-width="1.8"/>
<path d="M290.2,53.6h2.6v2.45h2.0999999999999996v2.6h-2.0999999999999996v2.45h-2.6v-2.45h-2.0999999999999996v-2.6h2.0999999999999996z" fill="#eee" stroke="#000" stroke-width="1.8"/>
<path d="M301.4,53.4h2.6v2.45h2.0999999999999996v2.6h-2.0999999999999996v2.45h-2.6v-2.45h-2.0999999999999996v-2.6h2.0999999999999996z" fill="#eee" stroke="#000" stroke-width="1.8"/>
<path d="M311.9,53.2h2.6v2.45h2.0999999999999996v2.6h-2.0999999999999996v2.45h-2.6v-2.45h-2.0999999999999996v-2.6h2.0999999999999996z" fill="#eee" stroke="#000" stroke-width="1.8"/>
<path d="M328.1,53.1h2.6v2.45h2.0999999999999996v2.6h-2.0999999999999996v2.45h-2.6v-2.45h-2.0999999999999996v-2.6h2.0999999999999996z" fill="#eee" stroke="#000" stroke-width="1.8"/>
</g>
<rect x="36.5" y="8.4" width="299.1" height="268.1" fill="none" stroke="#000" stroke-width="2.4"/>
<path d="M73.89,8.4v4.6 M73.89,276.5v-4.6 M36.5,41.91h5 M335.6,41.91h-5 M111.28,8.4v4.6 M111.28,276.5v-4.6 M36.5,75.43h5 M335.6,75.43h-5 M148.66,8.4v4.6 M148.66,276.5v-4.6 M36.5,108.94h5 M335.6,108.94h-5 M186.05,8.4v4.6 M186.05,276.5v-4.6 M36.5,142.45h5 M335.6,142.45h-5 M223.44,8.4v4.6 M223.44,276.5v-4.6 M36.5,175.96h5 M335.6,175.96h-5 M260.83,8.4v4.6 M260.83,276.5v-4.6 M36.5,209.48h5 M335.6,209.48h-5 M298.21,8.4v4.6 M298.21,276.5v-4.6 M36.5,242.99h5 M335.6,242.99h-5" stroke="#000" stroke-width="2" fill="none"/>
<g font-family="'Liberation Sans', Arial, sans-serif" font-size="12" fill="#000" stroke="#000" stroke-width="0.25">
<text x="36.5" y="293.6" text-anchor="middle">-20</text>
<text x="28.5" y="280.6" text-anchor="end">-20</text>
<text x="73.9" y="293.6" text-anchor="middle">-15</text>
<text x="28.5" y="247.0" text-anchor="end">-15</text>
<text x="111.3" y="293.6" text-anchor="middle">-10</text>
<text x="28.5" y="213.4" text-anchor="end">-10</text>
<text x="148.7" y="293.6" text-anchor="middle">-5</text>
<text x="28.5" y="179.8" text-anchor="end">-5</text>
<text x="186.1" y="293.6" text-anchor="middle">0</text>
<text x="28.5" y="146.2" text-anchor="end">0</text>
<text x="223.4" y="293.6" text-anchor="middle">5</text>
<text x="28.5" y="112.7" text-anchor="end">5</text>
<text x="260.8" y="293.6" text-anchor="middle">10</text>
<text x="28.5" y="79.1" text-anchor="end">10</text>
<text x="298.2" y="293.6" text-anchor="middle">15</text>
<text x="28.5" y="45.5" text-anchor="end">15</text>
<text x="335.0" y="293.6" text-anchor="middle">20</text>
<text x="28.5" y="11.9" text-anchor="end">20</text>
</g>
<g font-family="'Liberation Sans', Arial, sans-serif" font-size="13" fill="#000" stroke="#000" stroke-width="0.25">
<text x="164.3" y="311.6" font-size="13.5" textLength="43" lengthAdjust="spacingAndGlyphs">H (kOe)</text>
<text transform="translate(14.1,170) rotate(-90)" font-size="14" textLength="53.8" lengthAdjust="spacingAndGlyphs">4πM(kG)</text>
<path d="M46.6,28.6H119" stroke="#000" stroke-width="1.9" fill="none"/>
<ellipse cx="82.9" cy="28.6" rx="4.15" ry="4.6" fill="#fff" stroke="#000" stroke-width="1.9"/>
<text x="124.4" y="31.8" textLength="65.5" lengthAdjust="spacingAndGlyphs">v = 10 m/s</text>
<path d="M45.6,47.9H73 M88.5,47.9H119" stroke="#000" stroke-width="1.8" stroke-dasharray="3.5 2.3" fill="none"/>
<path d="M82.9,41.0 L88.4,53.3 L77.4,53.3Z" fill="#000"/>
<text x="124.4" y="50.6" textLength="65.5" lengthAdjust="spacingAndGlyphs">v = 20 m/s</text>
<path d="M46.6,68.7H119" stroke="#000" stroke-width="1.9" fill="none"/>
<path d="M81.6,65.0h2.6v2.45h2.0999999999999996v2.6h-2.0999999999999996v2.45h-2.6v-2.45h-2.0999999999999996v-2.6h2.0999999999999996z" fill="#eee" stroke="#000" stroke-width="1.8"/>
<text x="124.4" y="72.5" textLength="65.5" lengthAdjust="spacingAndGlyphs">v = 40 m/s</text>
</g>
</svg>
</body></html>
